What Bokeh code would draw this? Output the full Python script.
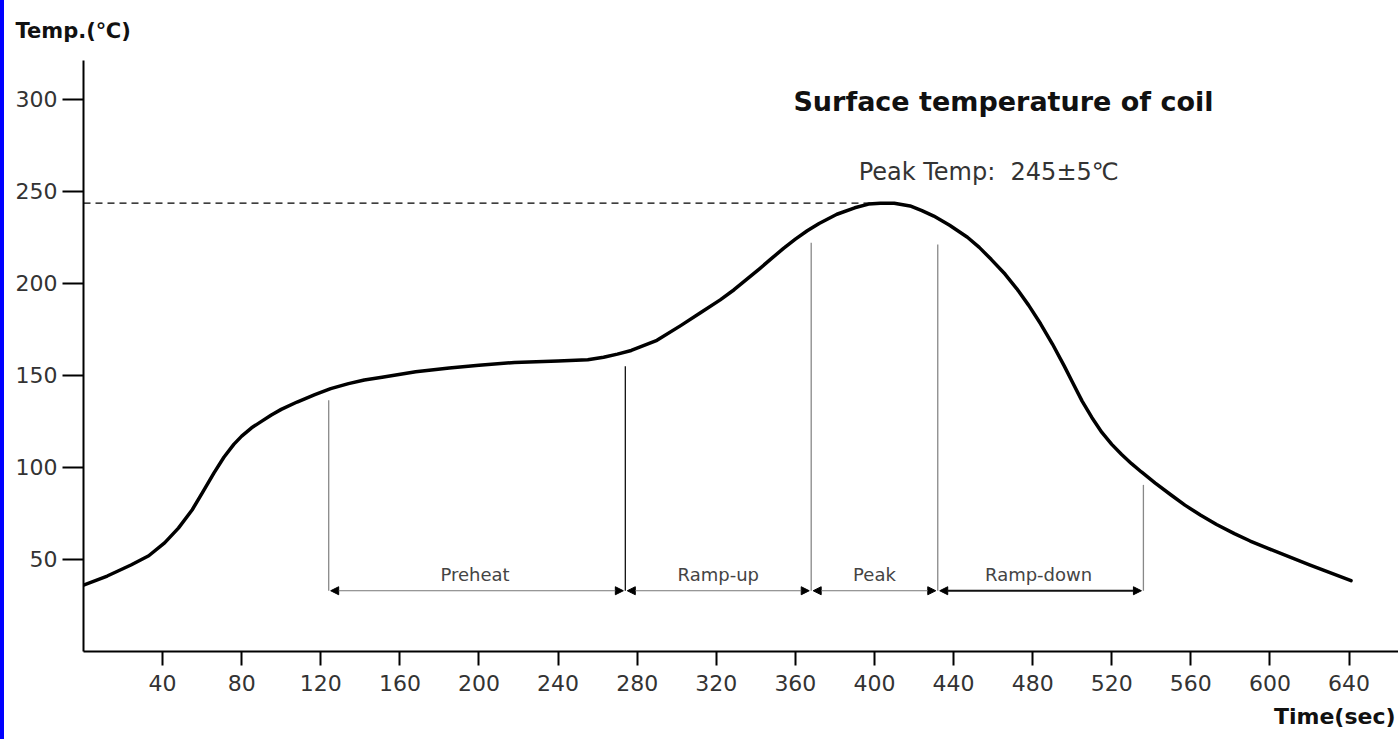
from bokeh.plotting import figure
from bokeh.models import Range1d, Label, Arrow, NormalHead, FixedTicker, Title, Div
from bokeh.layouts import row
from bokeh.embed import file_html
from bokeh.resources import INLINE

# ---- data ----
time_s = [0, 12, 24, 33, 41, 48, 55, 60, 66, 71, 76, 80, 85, 90, 95, 100, 108, 117, 125, 134, 142, 151,
          168, 185, 200, 218, 240, 255, 263, 270, 277, 290, 302, 312, 322, 329, 342, 348, 354, 360, 366,
          372, 381, 390, 397, 403, 410, 418, 424, 430, 438, 447, 453, 459, 466, 472, 478, 484, 490, 496,
          500, 505, 510, 515, 520, 525, 530, 535, 542, 550, 557, 565, 573, 582, 590, 599, 620, 641]
temp_c = [36, 41, 47, 52, 59, 67, 77, 86, 97, 105.5, 112.5, 117, 121.5, 125, 128.5, 131.5, 135.5, 139.5,
          142.8, 145.5, 147.5, 149, 152, 154, 155.5, 157, 157.8, 158.5, 159.8, 161.5, 163.5, 169, 177, 184,
          191, 196.5, 208, 213.5, 219, 224, 228.5, 232.5, 237.5, 241, 243, 243.5, 243.5, 242, 239.5, 236.5,
          231.5, 225, 219.5, 213, 205, 197, 188, 178, 167, 155, 146.5, 136, 127, 119, 112.5, 107, 102,
          97.5, 91.5, 85, 79.5, 74, 69, 64, 60, 56, 47, 38.5]

phase_names = ["Preheat", "Ramp-up", "Peak", "Ramp-down"]
phase_bounds = [124, 274, 368, 432, 536]
bound_tops = [136.5, 155, 222, 221, 90.5]
bound_colors = ["#888888", "#111111", "#888888", "#888888", "#888888"]
phase_label_x = [198, 321, 400, 483]
arrow_level = 33
peak_temp = 243.5
peak_time = 398

x_ticks = [40, 80, 120, 160, 200, 240, 280, 320, 360, 400, 440, 480, 520, 560, 600, 640]
y_ticks = [50, 100, 150, 200, 250, 300]

title_text = "Surface temperature of coil"
peak_text = "Peak Temp:\u00a0\u00a0245\u00b15\u2103"
y_label = "Temp.(\u2103)"
x_label = "Time(sec)"

FONT = "DejaVu Sans"

p = figure(width=1394, height=739, output_backend="svg", toolbar_location=None,
           x_range=Range1d(0, 665), y_range=Range1d(0, 321),
           min_border_left=79, min_border_right=0, min_border_top=60, min_border_bottom=88)
p.outline_line_color = None
p.background_fill_color = "white"
p.border_fill_color = "white"
p.xgrid.visible = False
p.ygrid.visible = False

for ax in (p.xaxis[0], p.yaxis[0]):
    ax.axis_line_width = 2
    ax.axis_line_color = "black"
    ax.major_tick_line_width = 2
    ax.major_tick_line_color = "black"
    ax.major_tick_in = 0
    ax.minor_tick_line_color = None
    ax.major_label_text_font = FONT
    ax.major_label_text_font_size = "22px"
    ax.major_label_text_color = "#333333"

p.xaxis[0].ticker = FixedTicker(ticks=x_ticks)
p.yaxis[0].ticker = FixedTicker(ticks=y_ticks)
p.xaxis[0].major_tick_out = 14
p.xaxis[0].major_label_standoff = 9
p.yaxis[0].major_tick_out = 21
p.yaxis[0].major_label_standoff = 5

# dashed peak line
p.line([0, peak_time], [peak_temp, peak_temp], line_color="black", line_width=1.3, line_dash="7 5")

# boundary lines
p.segment(x0=phase_bounds, y0=[arrow_level] * len(phase_bounds), x1=phase_bounds, y1=bound_tops,
          line_color=bound_colors, line_width=1.3)

# curve
p.line(time_s, temp_c, line_color="black", line_width=3.5, line_join="round", line_cap="round")

# phase arrows
for i, name in enumerate(phase_names):
    a0 = phase_bounds[i] + 1
    a1 = phase_bounds[i + 1] - 1
    lw = 2 if name == "Ramp-down" else 1
    col = "#111111" if name == "Ramp-down" else "#777777"
    p.add_layout(Arrow(x_start=a0, y_start=arrow_level, x_end=a1, y_end=arrow_level,
                       line_color=col, line_width=lw,
                       start=NormalHead(size=8, fill_color="black", line_color="black", line_width=1),
                       end=NormalHead(size=8, fill_color="black", line_color="black", line_width=1)))
    p.add_layout(Label(x=phase_label_x[i], y=arrow_level + 3, text=name, text_align="center",
                       text_baseline="bottom", text_font=FONT, text_font_size="18px",
                       text_color="#444444"))

p.add_layout(Label(x=359, y=299, text=title_text, text_align="left", text_baseline="middle",
                   text_font=FONT, text_font_size="27px", text_font_style="bold", text_color="#111111"))
p.add_layout(Label(x=392, y=260.5, text=peak_text, text_align="left", text_baseline="middle",
                   text_font=FONT, text_font_size="24px", text_color="#333333"))

p.add_layout(Title(text=y_label, align="left", offset=-68, standoff=32, vertical_align="top",
                   text_font=FONT, text_font_size="21px", text_font_style="bold",
                   text_color="#111111"), "above")
p.add_layout(Title(text=x_label, align="right", offset=3, standoff=16, text_font=FONT,
                   text_font_size="22px", text_font_style="bold", text_color="#111111"), "below")

strip = Div(text="", width=4, height=739, margin=0, styles={"background-color": "#0000ff"})
layout = row(strip, p)

open("out.html", "w").write(file_html(layout, INLINE))
